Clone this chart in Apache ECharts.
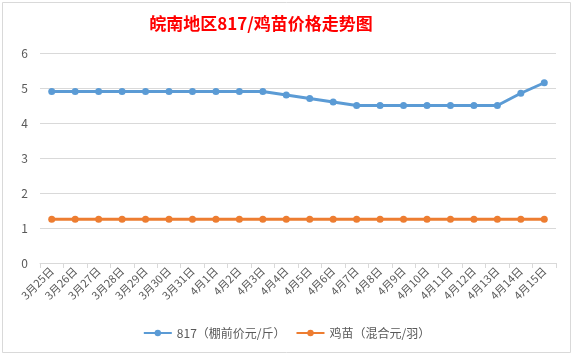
<!DOCTYPE html>
<html><head><meta charset="utf-8">
<script src="https://cdn.jsdelivr.net/npm/echarts@6/dist/echarts.min.js"></script>
<style>html,body{margin:0;padding:0;background:#fff}#c{width:573px;height:357px}</style>
</head><body><div id="c"></div>
<script>
var categories = ['3月25日','3月26日','3月27日','3月28日','3月29日','3月30日','3月31日','4月1日','4月2日','4月3日','4月4日','4月5日','4月6日','4月7日','4月8日','4月9日','4月10日','4月11日','4月12日','4月13日','4月14日','4月15日'];
var price817 = [4.9,4.9,4.9,4.9,4.9,4.9,4.9,4.9,4.9,4.9,4.8,4.7,4.6,4.5,4.5,4.5,4.5,4.5,4.5,4.5,4.85,5.15];
var chick = [1.25,1.25,1.25,1.25,1.25,1.25,1.25,1.25,1.25,1.25,1.25,1.25,1.25,1.25,1.25,1.25,1.25,1.25,1.25,1.25,1.25,1.25];
var yTicks = [0,1,2,3,4,5,6];
var seriesNames = ['817（棚前价元/斤）','鸡苗（混合元/羽）'];

var font = '"Microsoft YaHei","Noto Sans CJK SC",sans-serif';
var chart = echarts.init(document.getElementById('c'), null, {renderer:'canvas'});
chart.setOption({
  animation:false,
  backgroundColor:'#fff',
  graphic:[{type:'rect',shape:{x:2.5,y:2.5,width:568,height:350},style:{fill:'none',stroke:'#d9d9d9',lineWidth:1},silent:true,z:-1}],
  title:{text:'皖南地区817/鸡苗价格走势图',left:256,top:10,textAlign:'center',
    textStyle:{color:'#ff0000',fontSize:17,fontWeight:'bold',fontFamily:font}},
  legend:{bottom:13,left:'center',itemGap:10,itemWidth:28,itemHeight:8,
    textStyle:{color:'#595959',fontSize:12,fontFamily:font},
    data:seriesNames},
  grid:{left:40,right:17,top:53,bottom:94,containLabel:false},
  xAxis:{type:'category',data:categories,boundaryGap:true,
    axisLine:{lineStyle:{color:'#d9d9d9'}},
    axisTick:{show:true,length:5,lineStyle:{color:'#d9d9d9'}},
    axisLabel:{rotate:45,interval:0,color:'#595959',fontSize:11,fontFamily:font,margin:6}},
  yAxis:{type:'value',min:yTicks[0],max:yTicks[yTicks.length-1],interval:1,
    axisLine:{show:false},axisTick:{show:false},
    splitLine:{lineStyle:{color:'#d9d9d9'}},
    axisLabel:{color:'#595959',fontSize:12,fontFamily:font,margin:12}},
  series:[
    {name:seriesNames[0],type:'line',data:price817,symbol:'circle',symbolSize:7,
      lineStyle:{color:'#5b9bd5',width:3},itemStyle:{color:'#5b9bd5'}},
    {name:seriesNames[1],type:'line',data:chick,symbol:'circle',symbolSize:7,
      lineStyle:{color:'#ed7d31',width:3},itemStyle:{color:'#ed7d31'}}
  ]
});
</script></body></html>
